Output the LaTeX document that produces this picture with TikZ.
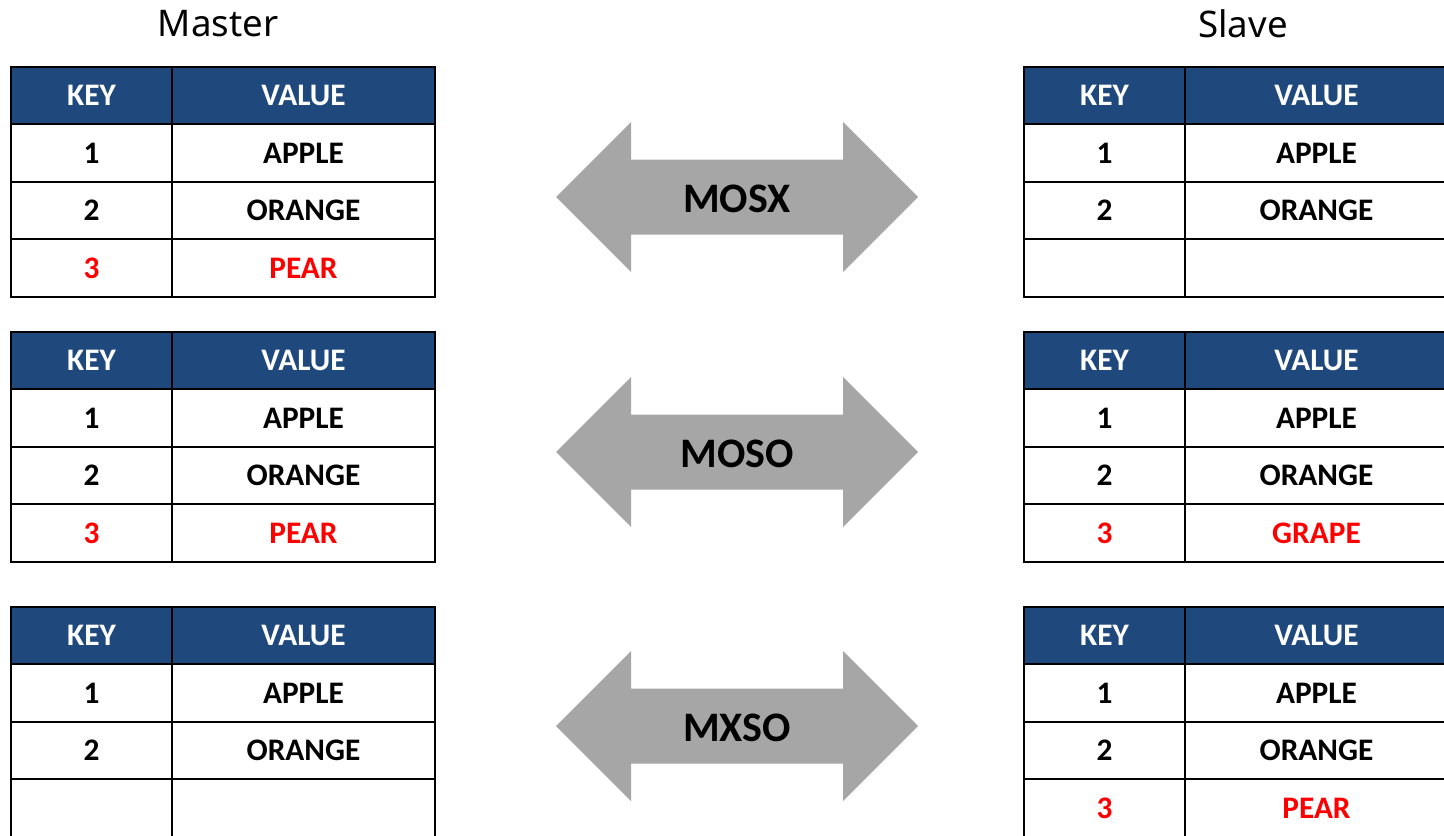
\documentclass[tikz,border=0pt]{standalone}
\usepackage{fontspec}
\setmainfont{Carlito}
\newfontfamily\titlefont{Noto Sans}
\usepackage{tikz}
\usepackage{xcolor}
\definecolor{headblue}{RGB}{31,73,125}
\definecolor{arrowgray}{RGB}{166,166,166}
\definecolor{keyred}{RGB}{255,0,0}

\newcommand{\kvtable}[4]{%
\fill[headblue] (#2,#3) rectangle ++(424,57);
\foreach \r in {57,115,172} \draw[gridline] (#2,#3+\r) -- ++(424,0);
\draw[gridline] (#2+161,#3) -- ++(0,230);
\draw[gridline] (#2,#3) rectangle ++(424,230);
\node[headtxt] (#1-key) at (#2+80.5,#3+28.5) {KEY};
\node[headtxt] (#1-val) at (#2+292.5,#3+28.5) {VALUE};
\foreach \k/\v/\c [count=\i] in {#4} {
\node[celltxt,text=\c] (#1-k\i) at (#2+80.5,#3+28.5+57.5*\i) {\k};
\node[celltxt,text=\c] (#1-v\i) at (#2+292.5,#3+28.5+57.5*\i) {\v};
}}

\newcommand{\syncarrow}[4]{%
\fill[arrowgray] (#2-181,#3) -- (#2-106,#3-75) -- (#2-106,#3-37.5) -- (#2+106,#3-37.5)
 -- (#2+106,#3-75) -- (#2+181,#3) -- (#2+106,#3+75) -- (#2+106,#3+37.5)
 -- (#2-106,#3+37.5) -- (#2-106,#3+75) -- cycle;
\node[arrowtxt] (#1) at (#2,#3+2) {#4};}

\begin{document}
\begin{tikzpicture}[x=0.75pt,y=-0.75pt,
 gridline/.style={black,line width=1.9pt},
 headtxt/.style={text=white,font=\fontsize{23.5}{27}\selectfont\bfseries,inner sep=0pt},
 celltxt/.style={font=\fontsize{23.5}{27}\selectfont\bfseries,inner sep=0pt},
 arrowtxt/.style={font=\fontsize{31.5}{36}\selectfont\bfseries,inner sep=0pt},
 sidetxt/.style={font=\titlefont\fontsize{27.5}{32}\selectfont,inner sep=0pt}]
\useasboundingbox (0,0) rectangle (1444,835);
\node[sidetxt] (master) at (218,24) {Master};
\node[sidetxt] (slave) at (1243,24) {Slave};
% master side
\kvtable{mA}{11}{67}{1/APPLE/black,2/ORANGE/black,3/PEAR/keyred}
\kvtable{mB}{11}{332}{1/APPLE/black,2/ORANGE/black,3/PEAR/keyred}
\kvtable{mC}{11}{607}{1/APPLE/black,2/ORANGE/black}
% slave side
\kvtable{sA}{1024}{67}{1/APPLE/black,2/ORANGE/black}
\kvtable{sB}{1024}{332}{1/APPLE/black,2/ORANGE/black,3/GRAPE/keyred}
\kvtable{sC}{1024}{607}{1/APPLE/black,2/ORANGE/black,3/PEAR/keyred}
% sync modes
\syncarrow{mosx}{737}{197}{MOSX}
\syncarrow{moso}{737}{452}{MOSO}
\syncarrow{mxso}{737}{726}{MXSO}
\end{tikzpicture}
\end{document}
